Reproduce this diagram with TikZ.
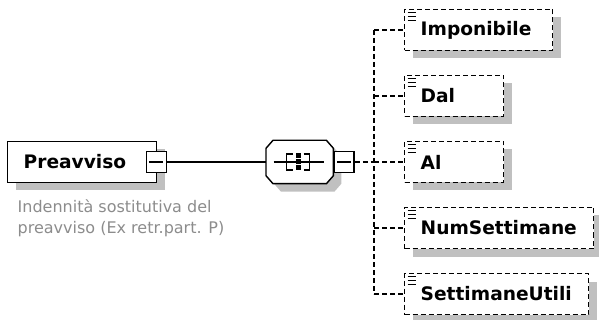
\documentclass[tikz,border=0pt]{standalone}
\usepackage{fontspec}
\setmainfont{DejaVu Sans}
\usetikzlibrary{positioning, shadows}
\definecolor{shadowgray}{RGB}{192,192,192}
\definecolor{descgray}{RGB}{140,140,140}
\newcommand{\elemfont}{\fontsize{18.6}{22}\selectfont\bfseries}
\newcommand{\descfont}{\fontsize{16}{20.5}\selectfont}

\begin{document}
\begin{tikzpicture}[x=1pt, y=-1pt, line width=1.4pt,
  boxshadow/.style={drop shadow={shadow xshift=8pt, shadow yshift=-8pt, fill=shadowgray, opacity=1}},
  elem/.style={draw, fill=white, font=\elemfont, minimum height=41pt, inner xsep=16pt, boxshadow},
  optelem/.style={elem, dash pattern=on 5pt off 3pt, anchor=west, text width=#1,
    path picture={\foreach \dy in {3,7,11}
      \draw[solid, line width=1.4pt] ([shift={(3pt,-\dy pt)}]path picture bounding box.north west) -- ++(8pt,0pt);}},
  expbox/.style={draw, solid, fill=white, minimum width=20pt, minimum height=21pt, inner sep=0pt,
    path picture={\draw ([xshift=3pt]path picture bounding box.west) -- ([xshift=-3pt]path picture bounding box.east);}},
  treeline/.style={dash pattern=on 5pt off 3pt}]
  \useasboundingbox (0,0) rectangle (599,320);

  % parent element and its note
  \node[elem, anchor=west, text width=117pt] (pre) at (7,162) {Preavviso};
  \node[expbox] (preexp) at ([xshift=-1pt]pre.east) {};
  \node[font=\descfont, text=descgray, align=left, inner sep=0pt,
        below right=16pt and 10pt of pre.south west] (predesc)
        {Indennità sostitutiva del\\preavviso (Ex retr.part. P)};

  % sequence compositor
  \node[minimum width=66pt, minimum height=42pt, inner sep=0pt, anchor=west] (seq) at (266,162) {};
  \draw[fill=white, boxshadow]
    ([xshift=7pt]seq.north west) -- ([xshift=-7pt]seq.north east)
    -- ([yshift=-8pt]seq.north east) -- ([yshift=8pt]seq.south east)
    -- ([xshift=-7pt]seq.south east) -- ([xshift=7pt]seq.south west)
    -- ([yshift=8pt]seq.south west) -- ([yshift=-8pt]seq.north west) -- cycle;
  \node[expbox, right=0pt of seq] (seqexp) {};
  \begin{scope}[shift={(seq.center)}]
    \draw (-26,0) -- (24,0);
    \draw (-7,-8) -- (-13,-8) -- (-13,8) -- (-7,8);
    \draw (4,-8) -- (10,-8) -- (10,8) -- (4,8);
    \foreach \sy in {-6,0,6}
      \fill (-4,\sy-2.5) rectangle (1,\sy+2.5);
  \end{scope}
  \draw (preexp) -- (seq);

  % optional children
  \coordinate (fork) at (374,162);
  \node[optelem=116pt] (imp)  at (404,30)  {Imponibile};
  \node[optelem=67pt]  (dal)  at (404,96)  {Dal};
  \node[optelem=67pt]  (al)   at (404,162) {Al};
  \node[optelem=157pt] (nums) at (404,228) {NumSettimane};
  \node[optelem=152pt] (sett) at (404,294) {SettimaneUtili};
  \draw[treeline] (seqexp) -- (fork);
  \draw[treeline] (fork |- imp.west) -- (fork |- sett.west);
  \foreach \c in {imp,dal,al,nums,sett}
    \draw[treeline] (fork |- \c.west) -- (\c.west);
\end{tikzpicture}
\end{document}
